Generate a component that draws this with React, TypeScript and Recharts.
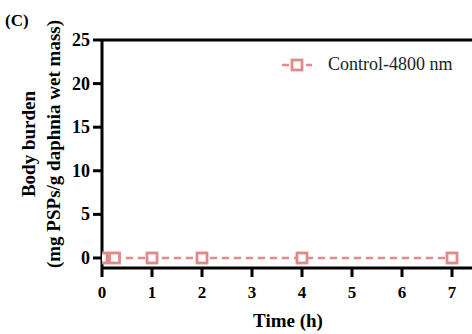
import React from "react";
import { LineChart, Line, XAxis, YAxis, Legend, ReferenceLine } from "recharts";

const times = [0, 0.25, 1, 2, 4, 7];
const burden = [0, 0, 0, 0, 0, 0];
const xTicks = [0, 1, 2, 3, 4, 5, 6, 7];
const yMajor = [0, 5, 10, 15, 20, 25];
const yMinor = [2.5, 7.5, 12.5, 17.5, 22.5];
const seriesName = "Control-4800 nm";

const data = times.map((t, i) => ({ time: t, value: burden[i] }));

const font = "'Liberation Serif', 'Times New Roman', serif";
const pink = "#E2898A";
const axisW = 3;

const YTick = (props: any) => {
  const { x, y, payload } = props;
  const major = yMajor.includes(payload.value);
  return (
    <g>
      <line x1={x} x2={x - (major ? 9 : 5)} y1={y} y2={y} stroke="#000" strokeWidth={axisW} />
      {major && (
        <text x={x - 12} y={y} dy={6} textAnchor="end" fontFamily={font} fontWeight="bold" fontSize={18} fill="#000">
          {payload.value}
        </text>
      )}
    </g>
  );
};

const XTick = (props: any) => {
  const { x, y, payload } = props;
  return (
    <g>
      <line x1={x} x2={x} y1={y} y2={y + 9} stroke="#000" strokeWidth={axisW} />
      <text x={x} y={y + 30} textAnchor="middle" fontFamily={font} fontWeight="bold" fontSize={17} fill="#000">
        {payload.value}
      </text>
    </g>
  );
};

const SquareDot = (props: any) => {
  const { cx, cy } = props;
  return <rect x={cx - 5} y={cy - 5} width={10} height={10} fill="#fff" stroke={pink} strokeWidth={2.8} />;
};

const LegendBox = () => (
  <div style={{ display: "flex", alignItems: "center", fontFamily: font, fontSize: 18 }}>
    <svg width={30} height={14}>
      <line x1={0} x2={30} y1={7} y2={7} stroke={pink} strokeWidth={2.5} strokeDasharray="7 5" />
      <rect x={10} y={2} width={10} height={10} fill="#fff" stroke={pink} strokeWidth={2.8} />
    </svg>
    <span style={{ marginLeft: 16, color: "#222" }}>{seriesName}</span>
  </div>
);

export default function App() {
  return (
    <div style={{ width: 472, height: 334 }}>
      <style>{"body{margin:0}"}</style>
      <LineChart width={472} height={334} data={data} margin={{ top: 19, right: 0, bottom: 0, left: 0 }}>
        <XAxis
          type="number"
          dataKey="time"
          domain={[0, 7.4]}
          ticks={xTicks}
          allowDataOverflow
          height={66}
          tickSize={0}
          tickMargin={0}
          tick={<XTick />}
          axisLine={{ stroke: "#000", strokeWidth: axisW }}
          tickLine={false}
        />
        <YAxis
          type="number"
          domain={[-1.15, 25]}
          ticks={[...yMajor, ...yMinor].sort((a, b) => a - b)}
          allowDataOverflow
          width={102}
          tickSize={0}
          tickMargin={0}
          tick={<YTick />}
          axisLine={{ stroke: "#000", strokeWidth: axisW }}
          tickLine={false}
        />
        <ReferenceLine y={25} stroke="#000" strokeWidth={axisW} />
        <Legend
          verticalAlign="top"
          align="left"
          wrapperStyle={{ position: "absolute", top: 54, left: 282, width: 190 }}
          content={<LegendBox />}
        />
        <Line
          type="linear"
          dataKey="value"
          name={seriesName}
          stroke={pink}
          strokeWidth={2.5}
          strokeDasharray="7 5"
          dot={<SquareDot />}
          isAnimationActive={false}
        />
        <text x={5} y={26} fontFamily={font} fontWeight="bold" fontSize={17} fill="#000">
          (C)
        </text>
        <text x={288} y={327} textAnchor="middle" fontFamily={font} fontWeight="bold" fontSize={19} fill="#000">
          Time (h)
        </text>
        <text
          transform="translate(35,144) rotate(-90)"
          textAnchor="middle"
          fontFamily={font}
          fontWeight="bold"
          fontSize={19}
          fill="#000"
        >
          Body burden
        </text>
        <text
          transform="translate(60,144) rotate(-90)"
          textAnchor="middle"
          fontFamily={font}
          fontWeight="bold"
          fontSize={19}
          fill="#000"
        >
          (mg PSPs/g daphnia wet mass)
        </text>
      </LineChart>
    </div>
  );
}
